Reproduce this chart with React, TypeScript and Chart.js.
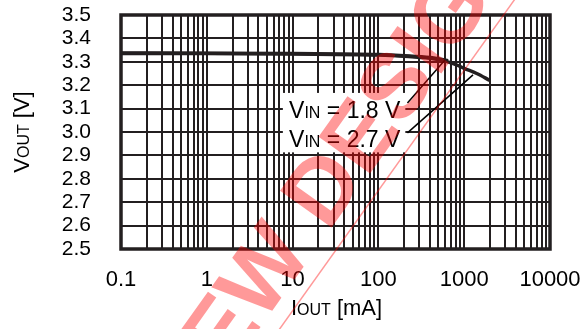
import React, { useEffect, useRef } from 'react';
import { Chart, registerables } from 'chart.js';

Chart.register(...registerables);

// ---- data ----
const X_DECADES = [0.1, 1, 10, 100, 1000, 10000];
const X_TICK_LABELS = ['0.1', '1', '10', '100', '1000', '10000'];
const Y_TICKS = [2.5, 2.6, 2.7, 2.8, 2.9, 3.0, 3.1, 3.2, 3.3, 3.4, 3.5];

const IOUT_18 = [0.1, 1, 10, 100, 200, 400, 650];
const VOUT_18 = [3.338, 3.337, 3.335, 3.331, 3.326, 3.318, 3.305];

const IOUT_27 = [0.1, 1, 10, 100, 200, 400, 600, 800, 1000, 1400, 2000];
const VOUT_27 = [3.336, 3.335, 3.333, 3.329, 3.324, 3.315, 3.303, 3.288, 3.272, 3.25, 3.22];

// annotation (data coordinates)
const LABEL_TEXTS = ['1.8 V', '2.7 V'];
const LABEL_BASELINES = [3.06, 2.936]; // y value of text baseline
const LABEL_TEXT_X = 9.1; // mA where text starts
const LABEL_BOX = { x0: 7.7, x1: 206, y0: 3.167, y1: 2.913 };
const LEADER_FROM = [
  { x: 218, y: 3.124 },
  { x: 218, y: 2.996 },
];
const LEADER_TO = [
  { x: 597, y: 3.308 },
  { x: 1267, y: 3.244 },
];

const INK = '#231f20';
const FONT = '"Liberation Sans", Arial, sans-serif';

const X_GRID: number[] = [];
for (let d = 0; d < X_DECADES.length; d++) {
  const base = X_DECADES[d];
  if (d === X_DECADES.length - 1) {
    X_GRID.push(base);
  } else {
    for (let k = 1; k <= 9; k++) X_GRID.push(Number((base * k).toPrecision(6)));
  }
}

function drawRich(
  ctx: CanvasRenderingContext2D,
  segs: { t: string; s: number }[],
  x: number,
  y: number,
  align: 'left' | 'center'
) {
  let total = 0;
  const widths = segs.map((sg) => {
    ctx.font = `${sg.s}px ${FONT}`;
    const w = ctx.measureText(sg.t).width;
    total += w;
    return w;
  });
  let cx = align === 'center' ? x - total / 2 : x;
  ctx.textAlign = 'left';
  ctx.textBaseline = 'alphabetic';
  segs.forEach((sg, i) => {
    ctx.font = `${sg.s}px ${FONT}`;
    ctx.fillText(sg.t, cx, y);
    cx += widths[i];
  });
  return total;
}

const decorPlugin = {
  id: 'decor',
  beforeDatasetsDraw(chart: any) {
    const { ctx, chartArea } = chart;
    ctx.save();
    ctx.strokeStyle = INK;
    ctx.lineWidth = 3.5;
    ctx.strokeRect(
      chartArea.left,
      chartArea.top,
      chartArea.right - chartArea.left,
      chartArea.bottom - chartArea.top
    );
    ctx.restore();
  },
  afterDatasetsDraw(chart: any) {
    const { ctx, chartArea } = chart;
    const xs = chart.scales.x;
    const ys = chart.scales.y;
    ctx.save();
    // label box
    const bx0 = xs.getPixelForValue(LABEL_BOX.x0);
    const bx1 = xs.getPixelForValue(LABEL_BOX.x1);
    const by0 = ys.getPixelForValue(LABEL_BOX.y0);
    const by1 = ys.getPixelForValue(LABEL_BOX.y1);
    ctx.fillStyle = '#ffffff';
    ctx.fillRect(bx0, by0, bx1 - bx0, by1 - by0);
    ctx.fillStyle = '#000000';
    LABEL_TEXTS.forEach((t, i) => {
      drawRich(
        ctx,
        [
          { t: 'V', s: 23 },
          { t: 'IN', s: 16 },
          { t: ' = ' + t, s: 23 },
        ],
        xs.getPixelForValue(LABEL_TEXT_X),
        ys.getPixelForValue(LABEL_BASELINES[i]),
        'left'
      );
    });
    // leaders
    ctx.strokeStyle = '#000000';
    ctx.lineWidth = 1.5;
    LEADER_FROM.forEach((f, i) => {
      const to = LEADER_TO[i];
      ctx.beginPath();
      ctx.moveTo(xs.getPixelForValue(f.x), ys.getPixelForValue(f.y));
      ctx.lineTo(xs.getPixelForValue(to.x), ys.getPixelForValue(to.y));
      ctx.stroke();
    });
    // axis titles
    ctx.fillStyle = '#000000';
    drawRich(
      ctx,
      [
        { t: 'I', s: 22 },
        { t: 'OUT', s: 16 },
        { t: ' [mA]', s: 22 },
      ],
      (chartArea.left + chartArea.right) / 2 + 1,
      chartArea.bottom + 66,
      'center'
    );
    ctx.save();
    ctx.translate(29, (chartArea.top + chartArea.bottom) / 2);
    ctx.rotate(-Math.PI / 2);
    drawRich(
      ctx,
      [
        { t: 'V', s: 22 },
        { t: 'OUT', s: 16 },
        { t: ' [V]', s: 22 },
      ],
      0,
      0,
      'center'
    );
    ctx.restore();
    ctx.restore();
  },
  afterDraw(chart: any) {
    const { ctx } = chart;
    ctx.save();
    ctx.translate(340, 172);
    ctx.rotate((-54.5 * Math.PI) / 180);
    ctx.fillStyle = 'rgba(255,0,0,0.4)';
    ctx.font = `bold 92px ${FONT}`;
    ctx.textAlign = 'center';
    ctx.textBaseline = 'middle';
    ctx.fillText('NEW DESIGN', 0, 0);
    ctx.strokeStyle = 'rgba(255,0,0,0.4)';
    ctx.lineWidth = 1.5;
    ctx.beginPath();
    ctx.moveTo(-350, 42);
    ctx.lineTo(350, 42);
    ctx.stroke();
    ctx.restore();
  },
};

export default function App() {
  const ref = useRef<HTMLCanvasElement | null>(null);
  useEffect(() => {
    if (!ref.current) return;
    const chart = new Chart(ref.current, {
      type: 'line',
      data: {
        datasets: [
          {
            label: 'VIN = 1.8 V',
            data: IOUT_18.map((x, i) => ({ x, y: VOUT_18[i] })),
            borderColor: INK,
            borderWidth: 3.5,
            pointRadius: 0,
            cubicInterpolationMode: 'monotone',
            fill: false,
          },
          {
            label: 'VIN = 2.7 V',
            data: IOUT_27.map((x, i) => ({ x, y: VOUT_27[i] })),
            borderColor: INK,
            borderWidth: 3.5,
            pointRadius: 0,
            cubicInterpolationMode: 'monotone',
            fill: false,
          },
        ],
      },
      options: {
        responsive: false,
        animation: false,
        devicePixelRatio: 1,
        layout: { padding: { top: 15, right: 38, left: 0, bottom: 0 } },
        plugins: {
          legend: { display: false },
          tooltip: { enabled: false },
        },
        scales: {
          x: {
            type: 'logarithmic',
            min: 0.1,
            max: 10000,
            afterBuildTicks: (s: any) => {
              s.ticks = X_GRID.map((v) => ({ value: v }));
            },
            afterFit: (s: any) => {
              s.height = 80;
              s.paddingLeft = 0;
              s.paddingRight = 0;
              s.paddingTop = 0;
              s.paddingBottom = 0;
            },
            border: { display: false },
            grid: { color: INK, lineWidth: 2, drawTicks: false },
            ticks: {
              autoSkip: false,
              maxRotation: 0,
              minRotation: 0,
              padding: 18,
              color: '#000000',
              font: { family: FONT, size: 22 },
              callback: (v: any) => {
                const i = X_DECADES.findIndex((d) => Math.abs(d - Number(v)) / d < 1e-6);
                return i >= 0 ? X_TICK_LABELS[i] : '';
              },
            },
          },
          y: {
            type: 'linear',
            min: 2.5,
            max: 3.5,
            afterBuildTicks: (s: any) => {
              s.ticks = Y_TICKS.map((v) => ({ value: v }));
            },
            afterFit: (s: any) => {
              s.width = 121;
              s.paddingLeft = 0;
              s.paddingRight = 0;
              s.paddingTop = 0;
              s.paddingBottom = 0;
            },
            border: { display: false },
            grid: { color: INK, lineWidth: 2, drawTicks: false },
            ticks: {
              autoSkip: false,
              padding: 30,
              color: '#000000',
              font: { family: FONT, size: 21 },
              callback: (v: any) => Number(v).toFixed(1),
            },
          },
        },
      },
      plugins: [decorPlugin],
    } as any);
    return () => chart.destroy();
  }, []);
  return (
    <div style={{ position: 'absolute', left: 0, top: 0, width: 588, height: 329, background: '#fff' }}>
      <canvas ref={ref} width={588} height={329} style={{ width: 588, height: 329, display: 'block' }} />
    </div>
  );
}
